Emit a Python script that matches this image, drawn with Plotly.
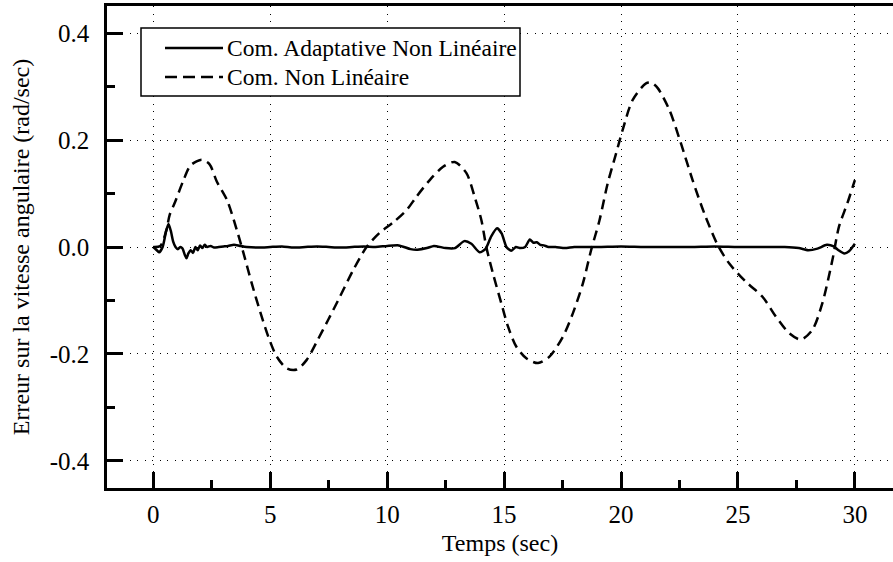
import plotly.graph_objects as go

# ---- data ----
t_adapt = [0, 0.15, 0.25, 0.4, 0.55, 0.65, 0.75, 0.85, 0.95, 1.05,
           1.15, 1.25, 1.35, 1.42, 1.5, 1.6, 1.7, 1.8, 1.9, 2.0,
           2.1, 2.2, 2.3, 2.45, 2.6, 2.8, 3.0, 3.2, 3.45, 3.7,
           4.0, 4.5, 5.0, 5.5, 6.0, 6.5, 7.0, 7.5, 8.0, 8.5,
           9.0, 9.5, 10.0, 10.5, 11.0, 11.3, 11.7, 12.0, 12.5, 12.9,
           13.3, 13.6, 13.95, 14.2, 14.45, 14.7, 14.9, 15.1, 15.3, 15.5,
           15.7, 15.9, 16.1, 16.25, 16.4, 16.55, 16.7, 16.9, 17.2, 17.6,
           18, 19, 20, 21, 22, 23, 24, 25, 26, 27,
           27.6, 28.0, 28.4, 28.8, 29.1, 29.3, 29.55, 29.75, 30.0]
v_adapt = [0, -0.006, -0.010, 0.0, 0.03, 0.043, 0.03, 0.01, 0.0, -0.004,
           0.0, -0.003, -0.015, -0.021, -0.012, -0.006, -0.011, 0.0, -0.006, 0.003,
           -0.002, 0.004, 0.0, 0.002, -0.001, 0.0, 0.001, 0.002, 0.004, 0.002,
           0.0, -0.001, 0.0, 0.001, -0.001, 0.0, 0.001, 0.0, -0.001, 0.0,
           0.001, 0.0, 0.002, 0.003, -0.004, -0.005, -0.002, 0.002, -0.002, -0.002,
           0.011, 0.006, -0.010, -0.004, 0.02, 0.035, 0.025, 0.0, -0.007, 0.0,
           -0.002, 0.0, 0.014, 0.008, 0.009, 0.004, 0.003, 0.0, 0.0, -0.002,
           0.0, 0.0, 0.001, 0.0, 0.0, 0.0, 0.001, 0.0, 0.0, 0.0,
           -0.002, -0.006, -0.003, 0.004, 0.001, -0.006, -0.012, -0.008, 0.006]

t_nonlin = [0, 0.3, 0.55, 0.7, 0.94, 1.29, 1.58, 1.85, 2.08, 2.4,
            2.72, 3.15, 3.57, 3.86, 4.21, 4.57, 4.92, 5.28, 5.71, 6.13,
            6.56, 6.99, 7.48, 7.98, 8.55, 9.12, 9.69, 10.26, 10.83, 11.25,
            11.82, 12.39, 12.89, 13.39, 13.74, 14.03, 14.24, 14.52, 14.88, 15.17,
            15.52, 15.95, 16.45, 16.94, 17.51, 17.94, 18.37, 18.72, 19.08, 19.43,
            19.79, 20.07, 20.5, 21.07, 21.3, 21.57, 22.07, 22.56, 23.06, 23.56,
            24.13, 24.63, 25.34, 26.05, 26.62, 27.19, 27.69, 28.18, 28.61, 29.04,
            29.32, 29.68, 30.0]
v_nonlin = [0, 0.002, 0.03, 0.06, 0.085, 0.125, 0.152, 0.16, 0.163, 0.155,
            0.122, 0.088, 0.032, -0.012, -0.068, -0.121, -0.168, -0.205, -0.227, -0.229,
            -0.211, -0.177, -0.136, -0.093, -0.043, 0.0, 0.027, 0.046, 0.069, 0.094,
            0.125, 0.150, 0.159, 0.138, 0.094, 0.050, 0.0, -0.049, -0.105, -0.149,
            -0.186, -0.208, -0.217, -0.205, -0.168, -0.124, -0.068, -0.006, 0.05, 0.119,
            0.175, 0.219, 0.275, 0.306, 0.307, 0.297, 0.256, 0.194, 0.125, 0.063,
            0.004, -0.031, -0.065, -0.093, -0.130, -0.161, -0.173, -0.155, -0.105, -0.024,
            0.038, 0.082, 0.125]

x_ticks = [0, 5, 10, 15, 20, 25, 30]
y_ticks = [-0.4, -0.2, 0.0, 0.2, 0.4]
y_tick_labels = ["-0.4", "-0.2", "0.0", "0.2", "0.4"]
series_names = ["Com. Adaptative Non Linéaire", "Com. Non Linéaire"]

FONT = "Liberation Serif"
FS_TICK = 25
FS_TITLE = 24
FS_LEG = 23.5
W, H = 893, 562
ML, MR, MT, MB = 107, 0, 6, 74
DASH = "10px,6px"

fig = go.Figure()
fig.add_trace(go.Scatter(x=t_adapt, y=v_adapt, mode="lines", name=series_names[0],
                         line=dict(color="black", width=2.5, shape="spline", smoothing=0.6),
                         showlegend=False))
fig.add_trace(go.Scatter(x=t_nonlin, y=v_nonlin, mode="lines", name=series_names[1],
                         line=dict(color="black", width=2.5, dash=DASH, shape="spline", smoothing=0.8),
                         showlegend=False))

# manual legend (pixel -> paper)
def px(xp):
    return (xp - ML) / (W - ML - MR)

def py(yp):
    return (H - MB - yp) / (H - MB - MT)

fig.add_shape(type="rect", xref="paper", yref="paper",
              x0=px(141), x1=px(520), y0=py(96), y1=py(28),
              line=dict(color="black", width=1.5), fillcolor="white", layer="above")
rows = [48, 77]
dashes = ["solid", "12px,6px"]
for name, ry, dsh in zip(series_names, rows, dashes):
    fig.add_shape(type="line", xref="paper", yref="paper",
                  x0=px(165), x1=px(223), y0=py(ry), y1=py(ry),
                  line=dict(color="black", width=2.5, dash=dsh), layer="above")
    fig.add_annotation(xref="paper", yref="paper", x=px(225), y=py(ry),
                       text=name, showarrow=False, xanchor="left", yanchor="middle",
                       font=dict(family=FONT, size=FS_LEG, color="black"))

fig.update_layout(
    width=W, height=H,
    margin=dict(l=ML, r=MR, t=MT, b=MB, pad=0),
    paper_bgcolor="white", plot_bgcolor="white",
    font=dict(family=FONT, size=FS_TICK, color="black"),
)
fig.update_xaxes(
    range=[-1.98, 31.63], tickvals=x_ticks, ticks="inside", ticklen=16, tickwidth=2.5,
    tickcolor="black", showline=True, linecolor="black", linewidth=2.5, mirror=True,
    showgrid=True, gridcolor="black", gridwidth=1, griddash="1px,6.5px", zeroline=False,
    ticklabelstandoff=2, tickfont=dict(family=FONT, size=FS_TICK),
    minor=dict(dtick=2.5, tick0=0, ticks="inside", ticklen=8, tickwidth=2.5, tickcolor="black", showgrid=False),
    title=dict(text="Temps (sec)", font=dict(family=FONT, size=FS_TITLE), standoff=8),
)
fig.update_yaxes(
    range=[-0.4505, 0.4505], tickvals=y_ticks, ticktext=y_tick_labels, ticks="inside", ticklen=16,
    tickwidth=2.5, tickcolor="black", showline=True, linecolor="black", linewidth=2.5, mirror=False,
    showgrid=True, gridcolor="black", gridwidth=1, griddash="1px,6.5px", zeroline=False,
    ticklabelstandoff=10, tickfont=dict(family=FONT, size=FS_TICK),
    minor=dict(dtick=0.1, tick0=0, ticks="inside", ticklen=8, tickwidth=2.5, tickcolor="black", showgrid=False),
    title=dict(text="Erreur sur la vitesse angulaire (rad/sec)", font=dict(family=FONT, size=FS_TITLE), standoff=14),
)

fig.write_html("out.html")
